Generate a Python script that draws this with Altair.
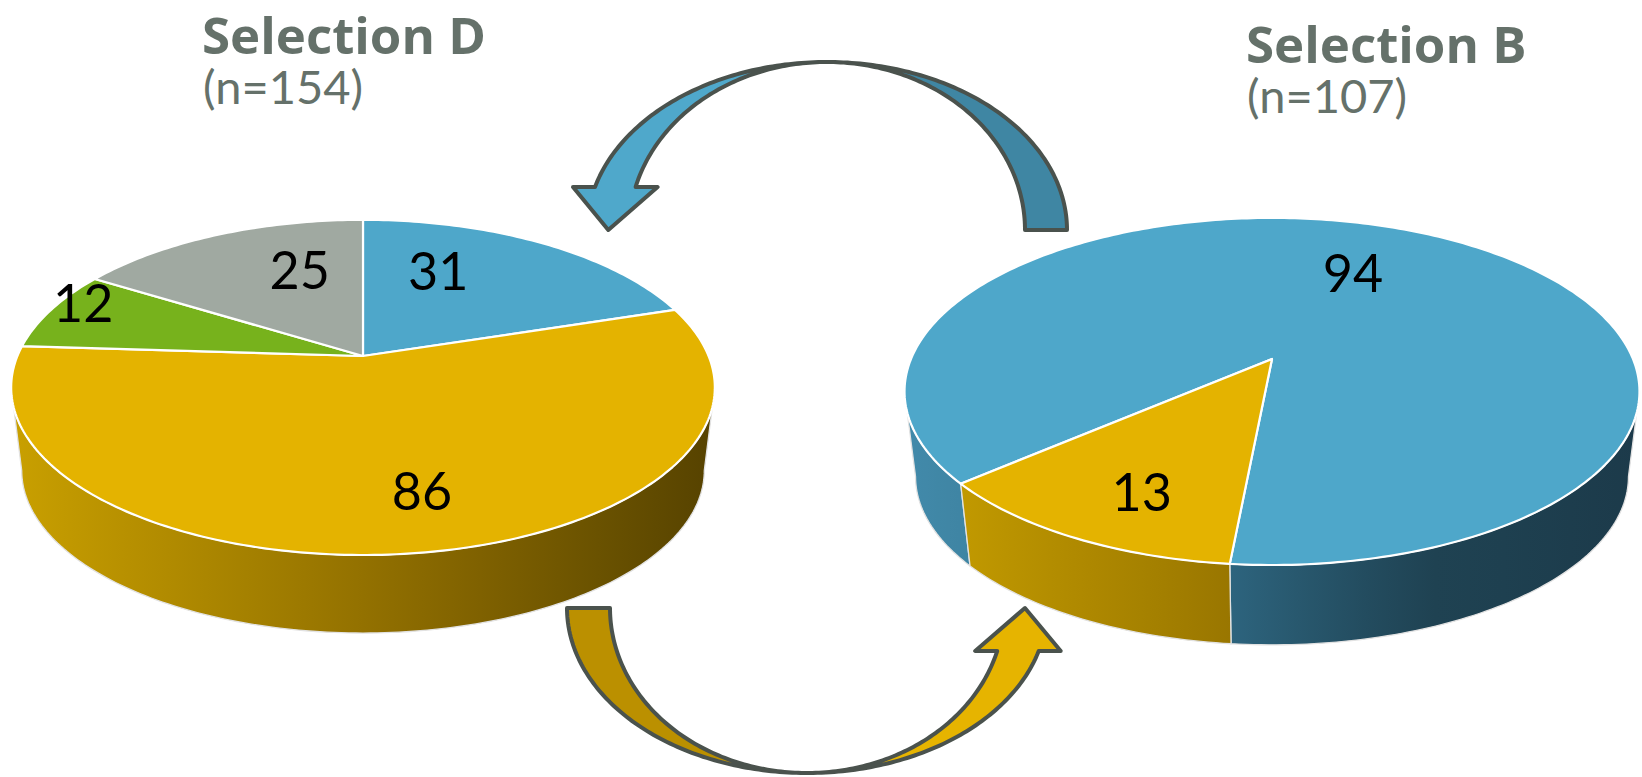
import math
import altair as alt

# ---------------- data ----------------
pie_d_categories = ["Blue", "Yellow", "Green", "Gray"]
pie_d_values = [31, 86, 12, 25]
pie_b_categories = ["Blue", "Yellow"]
pie_b_values = [94, 13]
title_texts = ["Selection D", "Selection B"]
subtitle_texts = ["(n=154)", "(n=107)"]

# ---------------- styles / layout ----------------
top_colors = {"Blue": "#4ea7ca", "Yellow": "#e4b300", "Green": "#77b21c", "Gray": "#a0a9a1"}
side_stops = {
    "Yellow": [(0.0, "#c9a000"), (0.5, "#937100"), (1.0, "#564200")],
    "Blue": [(0.0, "#428aaa"), (0.1, "#3e84a2"), (0.43, "#2e6680"), (0.7, "#1f4353"), (1.0, "#1c3a4a")],
    "Green": [(0.0, "#5e8c15"), (1.0, "#3a5a0c")],
    "Gray": [(0.0, "#858d86"), (1.0, "#5a605b")],
}
# label placement: (radius fraction, angular nudge in degrees) per slice
PIE_D = dict(cx=363, cy=356, a=345.6, b=161.7, k=0.1875, depth=84, shrink=0.97, start=0.0,
             label_pos=[(0.61, 13), (0.75, 4.3), (0.92, -3.4), (0.6, -9.5)])
PIE_B = dict(cx=1272, cy=359, a=361, b=167.5, k=0.187, depth=86, shrink=0.97, start=229.2,
             label_pos=[(0.6, 3), (0.77, 3.3)])
ARROW_TOP = dict(center=(827, 230), a_out=240, a_in=198, b=168, tail=0.0, mid=90.0,
                 head=180 - math.degrees(math.asin(43 / 168)), ext=22, tip=(-7, 43),
                 tail_color="#3f86a3", head_color="#4fa8cb")
ARROW_BOT = dict(center=(807, 608), a_out=240, a_in=197, b=165, tail=180.0, mid=270.0,
                 head=360 - math.degrees(math.asin(43 / 165)), ext=22, tip=(7, -43),
                 tail_color="#bb9000", head_color="#e6b400")
OUTLINE = "#4a524d"
TITLE_COLOR = "#65716a"

proj = alt.Projection(type="identity", scale=1, translate=[0, 0])


def pt(p, theta, r=1.0, bottom=False):
    th = math.radians(theta)
    c, s = r * math.cos(th), r * math.sin(th)
    den = 1 + p["k"] * s
    if bottom:
        a, b, cy = p["a"] * p["shrink"], p["b"] * p["shrink"], p["cy"] + p["depth"]
    else:
        a, b, cy = p["a"], p["b"], p["cy"]
    return [p["cx"] + a * c / den, cy - b * s / den]


def angles(t0, t1, step=1.0):
    n = max(2, int(abs(t1 - t0) / step) + 1)
    return [t0 + (t1 - t0) * i / (n - 1) for i in range(n)]


def feature(ring, **props):
    ring = [list(map(float, q)) for q in ring] + [list(map(float, ring[0]))]
    return {"type": "Feature", "properties": props,
            "geometry": {"type": "Polygon", "coordinates": [ring]}}


def hex2rgb(h):
    h = h.lstrip("#")
    return [int(h[i:i + 2], 16) for i in (0, 2, 4)]


def interp(stops, g):
    g = min(1.0, max(0.0, g))
    for (o0, c0), (o1, c1) in zip(stops[:-1], stops[1:]):
        if o0 <= g <= o1:
            f = 0 if o1 == o0 else (g - o0) / (o1 - o0)
            a, b = hex2rgb(c0), hex2rgb(c1)
            return "#%02x%02x%02x" % tuple(round(a[i] + (b[i] - a[i]) * f) for i in range(3))
    return stops[-1][1]


def slice_angles(p, cats, vals):
    total = sum(vals)
    acc = 0
    out = []
    for cat, v in zip(cats, vals):
        t0 = p["start"] + 360.0 * acc / total
        t1 = t0 + 360.0 * v / total
        acc += v
        out.append((cat, v, 90 - t0, 90 - t1))
    return out


def pie_layers(p, cats, vals):
    layers = []
    sl = slice_angles(p, cats, vals)
    kdeg = math.degrees(math.asin(p["k"]))
    v1, v2 = 180 + kdeg, 360 - kdeg
    x_lo, x_hi = p["cx"] - p["a"] * 1.02, p["cx"] + p["a"] * 1.02
    # sides
    for cat, v, th0, th1 in sl:
        for m in range(-3, 4):
            lo = max(th1, v1 + 360 * m)
            hi = min(th0, v2 + 360 * m)
            if hi > lo + 1e-6:
                ring = [pt(p, t) for t in angles(lo, hi)] + [pt(p, t, bottom=True) for t in angles(hi, lo)]
                xs = [q[0] for q in ring]
                x0, x1 = min(xs), max(xs)
                stops = []
                for i in range(7):
                    f = i / 6
                    X = x0 + f * (x1 - x0)
                    stops.append({"offset": f, "color": interp(side_stops[cat], (X - x_lo) / (x_hi - x_lo))})
                grad = {"gradient": "linear", "x1": 0, "x2": 1, "y1": 0, "y2": 0, "stops": stops}
                layers.append(
                    alt.Chart(alt.Data(values=[feature(ring, cat=cat)]))
                    .mark_geoshape(fill=grad, stroke="#e2e2e2", strokeWidth=1.3, strokeJoin="round")
                    .project(**proj.to_dict())
                )
    # top slices
    feats = []
    for cat, v, th0, th1 in sl:
        ring = [pt(p, 0, r=0)] + [pt(p, t) for t in angles(th0, th1)]
        feats.append(feature(ring, cat=cat, value=v))
    layers.append(
        alt.Chart(alt.Data(values=feats))
        .mark_geoshape(stroke="white", strokeWidth=2.2, strokeJoin="round")
        .encode(color=alt.Color("properties.cat:N",
                                scale=alt.Scale(domain=list(top_colors.keys()),
                                                range=list(top_colors.values())),
                                legend=None))
        .project(**proj.to_dict())
    )
    # labels
    rows = []
    for (cat, v, th0, th1), (r, nudge) in zip(sl, p["label_pos"]):
        x, y = pt(p, (th0 + th1) / 2 + nudge, r=r)
        rows.append({"lon": x, "lat": y, "label": str(v)})
    layers.append(
        alt.Chart(alt.Data(values=rows))
        .mark_text(font="Lato", fontSize=52, color="black", align="center", baseline="middle")
        .encode(longitude="lon:Q", latitude="lat:Q", text="label:N")
        .project(**proj.to_dict())
    )
    return layers


def ell(c, a, b, phi):
    r = math.radians(phi)
    return [c[0] + a * math.cos(r), c[1] - b * math.sin(r)]


def arrow_layers(A):
    c, ao, ai, b = A["center"], A["a_out"], A["a_in"], A["b"]
    p0, pm, p1 = A["tail"], A["mid"], A["head"]
    O, I = ell(c, ao, b, p1), ell(c, ai, b, p1)
    L = math.hypot(O[0] - I[0], O[1] - I[1])
    ux, uy = (O[0] - I[0]) / L, (O[1] - I[1]) / L
    Oc = [O[0] + ux * A["ext"], O[1] + uy * A["ext"]]
    Ic = [I[0] - ux * A["ext"], I[1] - uy * A["ext"]]
    tip = [(O[0] + I[0]) / 2 + A["tip"][0], (O[1] + I[1]) / 2 + A["tip"][1]]
    head = [Oc, tip, Ic]
    outer = lambda a0, a1: [ell(c, ao, b, t) for t in angles(a0, a1)]
    inner = lambda a0, a1: [ell(c, ai, b, t) for t in angles(a0, a1)]
    tail_ring = outer(p0, pm) + inner(pm, p0)
    head_ring = outer(pm, p1) + head + inner(p1, pm)
    full_ring = outer(p0, p1) + head + inner(p1, p0)
    return [
        alt.Chart(alt.Data(values=[feature(tail_ring, part="tail")]))
        .mark_geoshape(fill=A["tail_color"], strokeWidth=0).project(**proj.to_dict()),
        alt.Chart(alt.Data(values=[feature(head_ring, part="head")]))
        .mark_geoshape(fill=A["head_color"], strokeWidth=0).project(**proj.to_dict()),
        alt.Chart(alt.Data(values=[feature(full_ring, part="outline")]))
        .mark_geoshape(filled=False, stroke=OUTLINE, strokeWidth=4, strokeJoin="round")
        .project(**proj.to_dict()),
    ]


def text_layer(txt, x, y, size, weight, font):
    return (
        alt.Chart(alt.Data(values=[{"t": txt}]))
        .mark_text(font=font, fontSize=size, fontWeight=weight, color=TITLE_COLOR,
                   align="left", baseline="alphabetic")
        .encode(text="t:N", x=alt.value(x), y=alt.value(y))
    )


layers = []
layers += pie_layers(PIE_D, pie_d_categories, pie_d_values)
layers += pie_layers(PIE_B, pie_b_categories, pie_b_values)
layers += arrow_layers(ARROW_TOP)
layers += arrow_layers(ARROW_BOT)
layers += [
    text_layer(title_texts[0], 202, 54, 51, "bold", "Open Sans"),
    text_layer(subtitle_texts[0], 203, 104, 47, "normal", "Lato"),
    text_layer(title_texts[1], 1246, 63, 51, "bold", "Open Sans"),
    text_layer(subtitle_texts[1], 1247, 113, 47, "normal", "Lato"),
]

chart = (
    alt.layer(*layers)
    .properties(width=1642, height=777, padding=0,
                autosize=alt.AutoSizeParams(type="none"), background="white")
    .configure_view(strokeWidth=0)
)

chart.save("out.html", embed_options={"renderer": "svg", "actions": False})
